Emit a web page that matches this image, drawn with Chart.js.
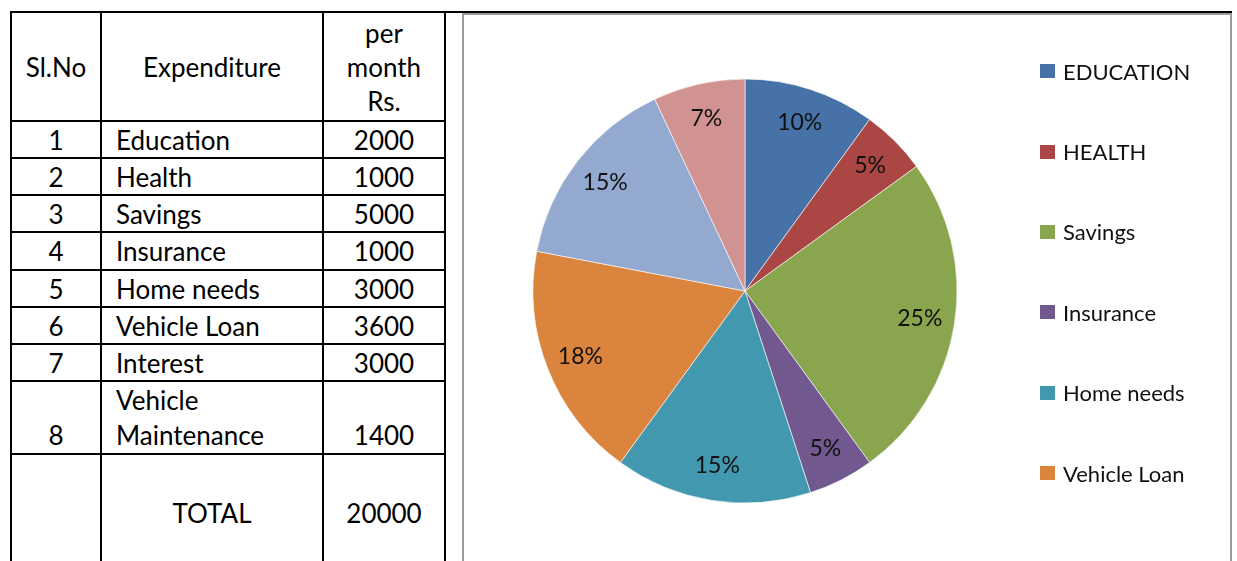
<!DOCTYPE html>
<html>
<head>
<meta charset="utf-8">
<script src="https://cdn.jsdelivr.net/npm/chart.js@4"></script>
<style>
  html, body { margin: 0; padding: 0; background: #fff; }
  body { width: 1237px; height: 561px; overflow: hidden; position: relative; font-family: Lato, sans-serif; color: #000; }
  #expense-table {
    position: absolute; left: 10px; top: 11px;
    border-collapse: collapse; table-layout: fixed;
    font-size: 26px;
  }
  #expense-table td { border: 2px solid #000; padding: 0; line-height: 34px; vertical-align: middle; }
  #expense-table td.num { text-align: center; }
  #expense-table td.name { text-align: left; padding-left: 14px; }
  #expense-table thead td { text-align: center; line-height: 34px; }
  #expense-table tr.wrap td { line-height: 35px; vertical-align: bottom; }
  #expense-table tr.total td { border-bottom: none; }
  .top-rule { position: absolute; left: 444px; top: 11px; width: 788px; height: 2px; background: #000; }
  .chart-box {
    position: absolute; left: 462px; top: 13px; width: 766px; height: 600px;
    border: 2px solid #9b9b9b;
  }
  .chart-wrap { position: absolute; left: 0; top: 0; width: 766px; height: 552px; }
  #legend {
    position: absolute; left: 576px; top: 16px; width: 190px; height: 482px;
    overflow: hidden; margin: 0; padding: 0; list-style: none;
    font-size: 22px; color: #111;
  }
  #legend li { height: 80.4px; display: flex; align-items: center; white-space: nowrap; }
  #legend li span.key { width: 15px; height: 14px; margin-right: 8px; flex: none; }
</style>
</head>
<body>
<table id="expense-table">
  <colgroup><col style="width:90px"><col style="width:222px"><col style="width:122px"></colgroup>
  <thead>
    <tr style="height:109px">
      <td>Sl.No</td><td>Expenditure</td><td>per<br>month<br>Rs.</td>
    </tr>
  </thead>
  <tbody id="expense-rows"></tbody>
</table>
<div class="top-rule"></div>
<div class="chart-box">
  <div class="chart-wrap"><canvas id="expense-chart"></canvas></div>
  <ul id="legend"></ul>
</div>
<script>
const serialNos = [1, 2, 3, 4, 5, 6, 7, 8];
const expenditures = ['Education', 'Health', 'Savings', 'Insurance', 'Home needs', 'Vehicle Loan', 'Interest', 'Vehicle Maintenance'];
const legendLabels = ['EDUCATION', 'HEALTH', 'Savings', 'Insurance', 'Home needs', 'Vehicle Loan', 'Interest', 'Vehicle Maintenance'];
const monthlyRs = [2000, 1000, 5000, 1000, 3000, 3600, 3000, 1400];
const totalRs = 20000;
const sliceColors = ['#4672a8', '#aa4643', '#89a54e', '#71588f', '#4198af', '#db843d', '#93a9cf', '#d19392'];

// table rows
const rowHeights = [37, 37, 37, 38, 37, 37, 37, 73];
const tbody = document.getElementById('expense-rows');
serialNos.forEach((no, i) => {
  const tr = document.createElement('tr');
  tr.style.height = rowHeights[i] + 'px';
  if (i === 7) tr.className = 'wrap';
  tr.innerHTML = '<td class="num">' + no + '</td><td class="name">' +
    expenditures[i].replace(' Maintenance', '<br>Maintenance') +
    '</td><td class="num">' + monthlyRs[i] + '</td>';
  tbody.appendChild(tr);
});
const totalRow = document.createElement('tr');
totalRow.className = 'total';
totalRow.style.height = '116px';
totalRow.innerHTML = '<td></td><td class="num">TOTAL</td><td class="num">' + totalRs + '</td>';
tbody.appendChild(totalRow);

// percent labels inside slices
const sliceLabels = {
  id: 'sliceLabels',
  afterDatasetsDraw(chart) {
    const { ctx } = chart;
    const values = chart.data.datasets[0].data;
    const sum = values.reduce((a, b) => a + b, 0);
    ctx.save();
    ctx.font = '23px Lato';
    ctx.fillStyle = '#111';
    ctx.textAlign = 'center';
    ctx.textBaseline = 'middle';
    chart.getDatasetMeta(0).data.forEach((arc, i) => {
      const { x, y, startAngle, endAngle, outerRadius } = arc.getProps(['x', 'y', 'startAngle', 'endAngle', 'outerRadius'], true);
      const mid = (startAngle + endAngle) / 2;
      const r = outerRadius * 0.835;
      ctx.fillText(Math.round(values[i] / sum * 100) + '%', x + Math.cos(mid) * r, y + Math.sin(mid) * r);
    });
    ctx.restore();
  },
};

// html legend, clipped like the original
const htmlLegend = {
  id: 'htmlLegend',
  afterUpdate(chart) {
    const list = document.getElementById('legend');
    list.innerHTML = '';
    const items = chart.options.plugins.legend.labels.generateLabels(chart);
    items.forEach((item) => {
      const li = document.createElement('li');
      const key = document.createElement('span');
      key.className = 'key';
      key.style.background = item.fillStyle;
      li.appendChild(key);
      li.appendChild(document.createTextNode(item.text));
      list.appendChild(li);
    });
  },
};

new Chart(document.getElementById('expense-chart'), {
  type: 'pie',
  data: {
    labels: legendLabels,
    datasets: [{
      data: monthlyRs,
      backgroundColor: sliceColors,
      borderColor: 'rgba(255,255,255,0.6)',
      borderWidth: 1,
      radius: 212,
    }],
  },
  options: {
    responsive: true,
    maintainAspectRatio: false,
    animation: false,
    layout: { padding: { left: 0, right: 204, top: 0, bottom: 0 } },
    plugins: {
      legend: { display: false },
      tooltip: { enabled: false },
    },
  },
  plugins: [sliceLabels, htmlLegend],
});
</script>
</body>
</html>
